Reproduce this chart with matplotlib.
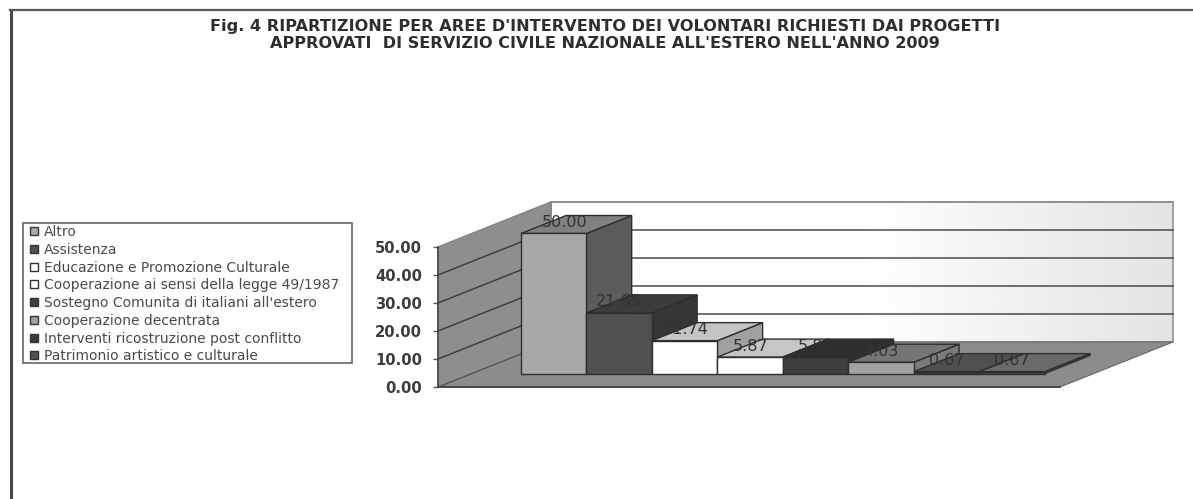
import numpy as np
import matplotlib
matplotlib.use("Agg")
import matplotlib.pyplot as plt
from matplotlib.patches import Polygon, Patch, Rectangle
from matplotlib.lines import Line2D

# ---- data ----
categories = ["Altro", "Assistenza", "Educazione e Promozione Culturale",
              "Cooperazione ai sensi della legge 49/1987",
              "Sostegno Comunita di italiani all'estero",
              "Cooperazione decentrata",
              "Interventi ricostruzione post conflitto",
              "Patrimonio artistico e culturale"]
values = [50.00, 21.65, 11.74, 5.87, 5.87, 4.03, 0.67, 0.67]
yticks = [0, 10, 20, 30, 40, 50]
title_lines = ["Fig. 4 RIPARTIZIONE PER AREE D'INTERVENTO DEI VOLONTARI RICHIESTI DAI PROGETTI",
               "APPROVATI  DI SERVIZIO CIVILE NAZIONALE ALL'ESTERO NELL'ANNO 2009"]

# ---- styles: front, top, side ----
front_colors = ["#a8a8a8", "#505050", "#ffffff", "#ffffff", "#3e3e3e", "#a2a2a2", "#3c3c3c", "#525252"]
top_colors = ["#808080", "#3c3c3c", "#c4c4c4", "#c6c6c6", "#2e2e2e", "#757575", "#505050", "#6a6a6a"]
side_colors = ["#5c5c5c", "#363636", "#a0a0a0", "#a0a0a0", "#2e2e2e", "#7a7a7a", "#404040", "#606060"]
label_dx_px = [11, 0, 0, 0, 0, 0, 0, 0]

W, H = 1193, 499
fig = plt.figure(figsize=(W / 100, H / 100), dpi=100, facecolor="white")
ax = fig.add_axes([438 / W, 1 - 387 / H, 622 / W, 140 / H])
ax.set_xlim(-1.25, 8.25)
ax.set_ylim(0, 50)
ax.patch.set_visible(False)
for s in ["top", "right", "bottom"]:
    ax.spines[s].set_visible(False)
ax.spines["left"].set_color("#444444")
ax.spines["left"].set_linewidth(1.2)
ax.set_xticks([])
ax.set_yticks(yticks)
ax.set_yticklabels([f"{v:.2f}" for v in yticks], fontsize=10.6, fontweight="bold",
                   color="#3c3c3c", family="DejaVu Sans")
ax.tick_params(axis="y", length=3.5, width=1, color="#555555", pad=8)

# oblique projection: depth d in 0..1 shifts a point back and up
x_px = 622 / 9.5
y_px = 140 / 50
DX = 113 / x_px
DY = 45 / y_px
xmin, xmax = ax.get_xlim()
ymax = max(yticks)


def P(x, y, d):
    return (x + d * DX, y + d * DY)


def quad(points, fc, ec="#2e2e2e", lw=1.0, z=2):
    ax.add_patch(Polygon(points, closed=True, facecolor=fc, edgecolor=ec, linewidth=lw,
                         clip_on=False, zorder=z, joinstyle="miter"))


# back wall with gradient
grad = np.linspace(0, 1, 256).reshape(1, -1)
grad = np.clip((grad - 0.5) / 0.5, 0, 1)
bl = P(xmin, 0, 1)
tr = P(xmax, ymax, 1)
ax.imshow(grad, extent=[bl[0], tr[0], bl[1], tr[1]], aspect="auto", cmap="gray_r",
          vmin=0, vmax=9, clip_on=False, zorder=1, interpolation="bilinear")
ax.set_xlim(xmin, xmax)
ax.set_ylim(0, 50)
quad([P(xmin, 0, 1), P(xmax, 0, 1), P(xmax, ymax, 1), P(xmin, ymax, 1)], "none", ec="#8a8a8a", lw=1.1, z=1.2)

# side wall and floor
quad([P(xmin, 0, 0), P(xmin, 0, 1), P(xmin, ymax, 1), P(xmin, ymax, 0)], "#8e8e8e", ec="#777777", lw=0.8, z=1.3)
quad([P(xmin, 0, 0), P(xmax, 0, 0), P(xmax, 0, 1), P(xmin, 0, 1)], "#8c8c8c", ec="#666666", lw=0.8, z=1.3)
ax.plot([xmin, xmax], [0, 0], color="#444444", lw=1.3, clip_on=False, zorder=1.4)

# gridlines on walls
for v in yticks[1:]:
    a, b, c = P(xmin, v, 0), P(xmin, v, 1), P(xmax, v, 1)
    ax.plot([a[0], b[0], c[0]], [a[1], b[1], c[1]],
            color="#3a3a3a" if v < ymax else "#8a8a8a", lw=1.0, clip_on=False, zorder=1.5)
a, b = P(xmin, 0, 0), P(xmin, 0, 1)
ax.plot([a[0], b[0]], [a[1], b[1]], color="#555555", lw=0.8, clip_on=False, zorder=1.5)

# bars
d0, d1 = 0.30, 0.70
for i, v in enumerate(values):
    l, r = i - 0.5, i + 0.5
    quad([P(r, 0, d0), P(r, 0, d1), P(r, v, d1), P(r, v, d0)], side_colors[i], z=3 + i)
    quad([P(l, v, d0), P(r, v, d0), P(r, v, d1), P(l, v, d1)], top_colors[i], z=3 + i)
    quad([P(l, 0, d0), P(r, 0, d0), P(r, v, d0), P(l, v, d0)], front_colors[i], z=3 + i)

# value labels
for i, v in enumerate(values):
    x, y = P(i, v, d0)
    ax.annotate(f"{v:.2f}", (x, y), xytext=(label_dx_px[i] * 0.72, 11 * 0.72),
                textcoords="offset points", ha="center", va="center",
                fontsize=11.5, color="#333333", family="DejaVu Sans",
                annotation_clip=False, zorder=20)

# title
for line, yp, xc in zip(title_lines, [27, 44], [(161 + 1049) / 2, (228 + 982) / 2]):
    fig.text(xc / W, 1 - yp / H, line, ha="center", va="center", fontsize=11.6,
             fontweight="bold", family="DejaVu Sans", color="#2e2e2e")

# legend: frame drawn separately so its box keeps the reference's tight rows
fig.add_artist(Rectangle((23 / W, 1 - 363 / H), 329 / W, 140 / H, transform=fig.transFigure,
                         facecolor="white", edgecolor="#666666", linewidth=1.2))
handles = [Patch(facecolor=f, edgecolor="#333333", linewidth=1.0) for f in front_colors]
leg = fig.legend(handles, categories, loc="upper left", bbox_to_anchor=(30 / W, 1 - 225 / H),
                 frameon=False, fontsize=10, labelcolor="#4a4a4a", borderaxespad=0, borderpad=0,
                 handlelength=0.6, handleheight=0.5, handletextpad=0.4, labelspacing=0.27)
leg.set_zorder(5)

# page frame (left and top rules)
fig.add_artist(Line2D([10.5 / W, 10.5 / W], [0, 1 - 10 / H], color="#4a4a4a", lw=2.2))
fig.add_artist(Line2D([9.5 / W, 1], [1 - 10 / H, 1 - 10 / H], color="#5a5a5a", lw=1.6))

fig.savefig("out.png", dpi=100)
